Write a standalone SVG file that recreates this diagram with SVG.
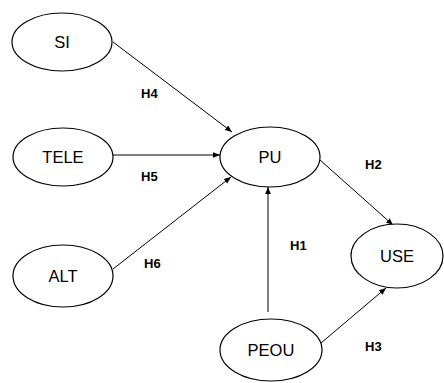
<svg xmlns="http://www.w3.org/2000/svg" width="444" height="383" viewBox="0 0 444 383">
  <style>
    .node ellipse { fill: #fff; stroke: #000; stroke-width: 1.2; }
    .node text { font-family: "Liberation Sans", Arial, sans-serif; font-size: 16.5px; fill: #000; text-anchor: middle; dominant-baseline: central; }
    .edges line { stroke: #000; stroke-width: 1; marker-end: url(#arrow); }
    .lbl { font-family: "Liberation Sans", Arial, sans-serif; font-size: 13px; font-weight: bold; fill: #000; }
  </style>
  <defs>
    <marker id="arrow" viewBox="0 0 10 10" refX="10" refY="5" markerWidth="7" markerHeight="7" markerUnits="userSpaceOnUse" orient="auto">
      <path d="M0,1 L10,5 L0,9 z" fill="#000"/>
    </marker>
  </defs>
  <rect width="444" height="383" fill="#fff"/>

  <g id="edges" class="edges">
    <line x1="113" y1="42" x2="232" y2="132"/>
    <line x1="113" y1="155" x2="220" y2="155"/>
    <line x1="113" y1="269" x2="231" y2="177"/>
    <line x1="320" y1="160" x2="393" y2="225"/>
    <line x1="321" y1="343" x2="386" y2="288"/>
    <line x1="268" y1="312" x2="268" y2="187"/>
  </g>

  <g id="labels">
    <text class="lbl" x="141" y="98">H4</text>
    <text class="lbl" x="141" y="181">H5</text>
    <text class="lbl" x="144" y="268">H6</text>
    <text class="lbl" x="365" y="169">H2</text>
    <text class="lbl" x="290" y="250">H1</text>
    <text class="lbl" x="365" y="351">H3</text>
  </g>

  <g id="SI" class="node">
    <ellipse cx="62" cy="42" rx="50" ry="29"/>
    <text x="62" y="42">SI</text>
  </g>
  <g id="TELE" class="node">
    <ellipse cx="63" cy="157" rx="50" ry="29"/>
    <text x="63" y="157">TELE</text>
  </g>
  <g id="ALT" class="node">
    <ellipse cx="63" cy="276" rx="50" ry="31"/>
    <text x="63" y="276">ALT</text>
  </g>
  <g id="PU" class="node">
    <ellipse cx="270" cy="157" rx="50" ry="30"/>
    <text x="270" y="157">PU</text>
  </g>
  <g id="USE" class="node">
    <ellipse cx="397" cy="256" rx="46" ry="32"/>
    <text x="397" y="256">USE</text>
  </g>
  <g id="PEOU" class="node">
    <ellipse cx="271" cy="350" rx="51" ry="31"/>
    <text x="271" y="350">PEOU</text>
  </g>
</svg>
